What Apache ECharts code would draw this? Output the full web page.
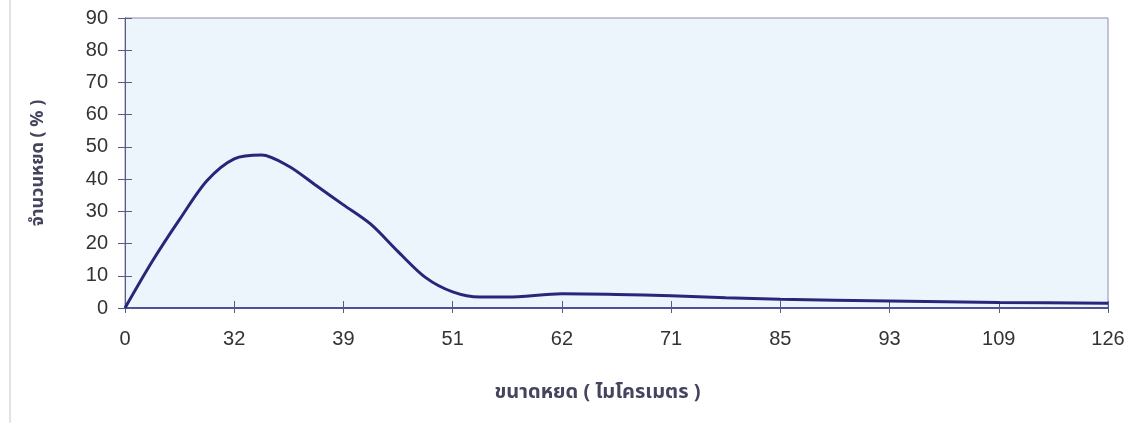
<!DOCTYPE html>
<html>
<head>
<meta charset="utf-8">
<script src="https://cdn.jsdelivr.net/npm/echarts@6/dist/echarts.min.js"></script>
<style>
  html, body { margin: 0; padding: 0; background: #ffffff; }
  #chart { width: 1142px; height: 423px; }
</style>
</head>
<body>
<div id="chart"></div>
<script>
// Droplet size tick labels (micrometres), one per major axis position
const sizeLabels = ['0', '32', '39', '51', '62', '71', '85', '93', '109', '126'];

// Position of each sample along the size axis (in label steps) and its share of droplets (%)
const samplePos = [0, 0.25, 0.5, 0.75, 1, 1.25, 1.5, 1.75, 2, 2.25, 2.5, 2.75, 3, 3.25, 3.5, 4, 4.5, 5, 5.5, 6, 7, 8, 9];
const dropShare = [0, 14.5, 27.5, 39.5, 46.3, 47.5, 44, 38, 32, 26, 17.5, 9.5, 5, 3.4, 3.4, 4.4, 4.2, 3.8, 3.2, 2.7, 2.2, 1.7, 1.5];

const yTicks = [0, 10, 20, 30, 40, 50, 60, 70, 80, 90];

const points = samplePos.map((p, i) => [p, dropShare[i]]);

const fontLatin = "'Liberation Sans', Arial, sans-serif";
const fontThai = "'Noto Sans Thai', 'Loma', 'Garuda', 'Noto Sans', 'DejaVu Sans', sans-serif";
const axisColor = '#5a5a8a';
const labelColor = '#333333';
const nameColor = '#44445e';

const chart = echarts.init(document.getElementById('chart'));

const baseX = {
  type: 'value',
  min: 0,
  max: sizeLabels.length - 1,
  interval: 1,
  splitLine: { show: false },
  axisLine: { show: true, lineStyle: { color: '#4a4a96', width: 1.5 } }
};
const baseY = {
  type: 'value',
  min: yTicks[0],
  max: yTicks[yTicks.length - 1],
  interval: 10,
  splitLine: { show: false },
  axisLine: { show: true, lineStyle: { color: axisColor, width: 1 } }
};

chart.setOption({
  animation: false,
  grid: {
    left: 125, right: 34, top: 18, bottom: 115,
    show: true,
    backgroundColor: '#edf5fc',
    borderColor: '#8c8cac',
    borderWidth: 1
  },
  graphic: [{
    type: 'line',
    shape: { x1: 10, y1: 0, x2: 10, y2: 423 },
    style: { stroke: '#c8c8c8', lineWidth: 1 }
  }],
  xAxis: [
    Object.assign({}, baseX, {
      position: 'bottom',
      axisTick: { show: true, length: 5, lineStyle: { color: axisColor } },
      axisLabel: {
        margin: 21,
        fontFamily: fontLatin,
        fontSize: 20,
        color: labelColor,
        formatter: v => sizeLabels[Math.round(v)] ?? ''
      },
      name: 'ขนาดหยด ( ไมโครเมตร )',
      nameLocation: 'middle',
      nameGap: 76,
      nameTextStyle: {
        fontFamily: fontThai,
        fontSize: 20,
        fontWeight: 'bold',
        color: nameColor,
        padding: [0, 38, 0, 0]
      }
    }),
    Object.assign({}, baseX, {
      position: 'bottom',
      axisTick: { show: true, inside: true, length: 7, lineStyle: { color: axisColor } },
      axisLabel: { show: false }
    })
  ],
  yAxis: [
    Object.assign({}, baseY, {
      position: 'left',
      axisTick: { show: true, length: 7, lineStyle: { color: axisColor } },
      axisLabel: {
        margin: 17,
        fontFamily: fontLatin,
        fontSize: 20,
        color: labelColor
      },
      name: 'จำนวนหยด ( % )',
      nameLocation: 'middle',
      nameGap: 77,
      nameTextStyle: {
        fontFamily: fontThai,
        fontSize: 18,
        fontWeight: 'bold',
        color: nameColor
      }
    }),
    Object.assign({}, baseY, {
      position: 'left',
      axisTick: { show: true, inside: true, length: 7, lineStyle: { color: axisColor } },
      axisLabel: { show: false }
    })
  ],
  series: [{
    type: 'line',
    data: points,
    smooth: 0.3,
    showSymbol: false,
    lineStyle: { color: '#27277a', width: 3 }
  }]
});
</script>
</body>
</html>
